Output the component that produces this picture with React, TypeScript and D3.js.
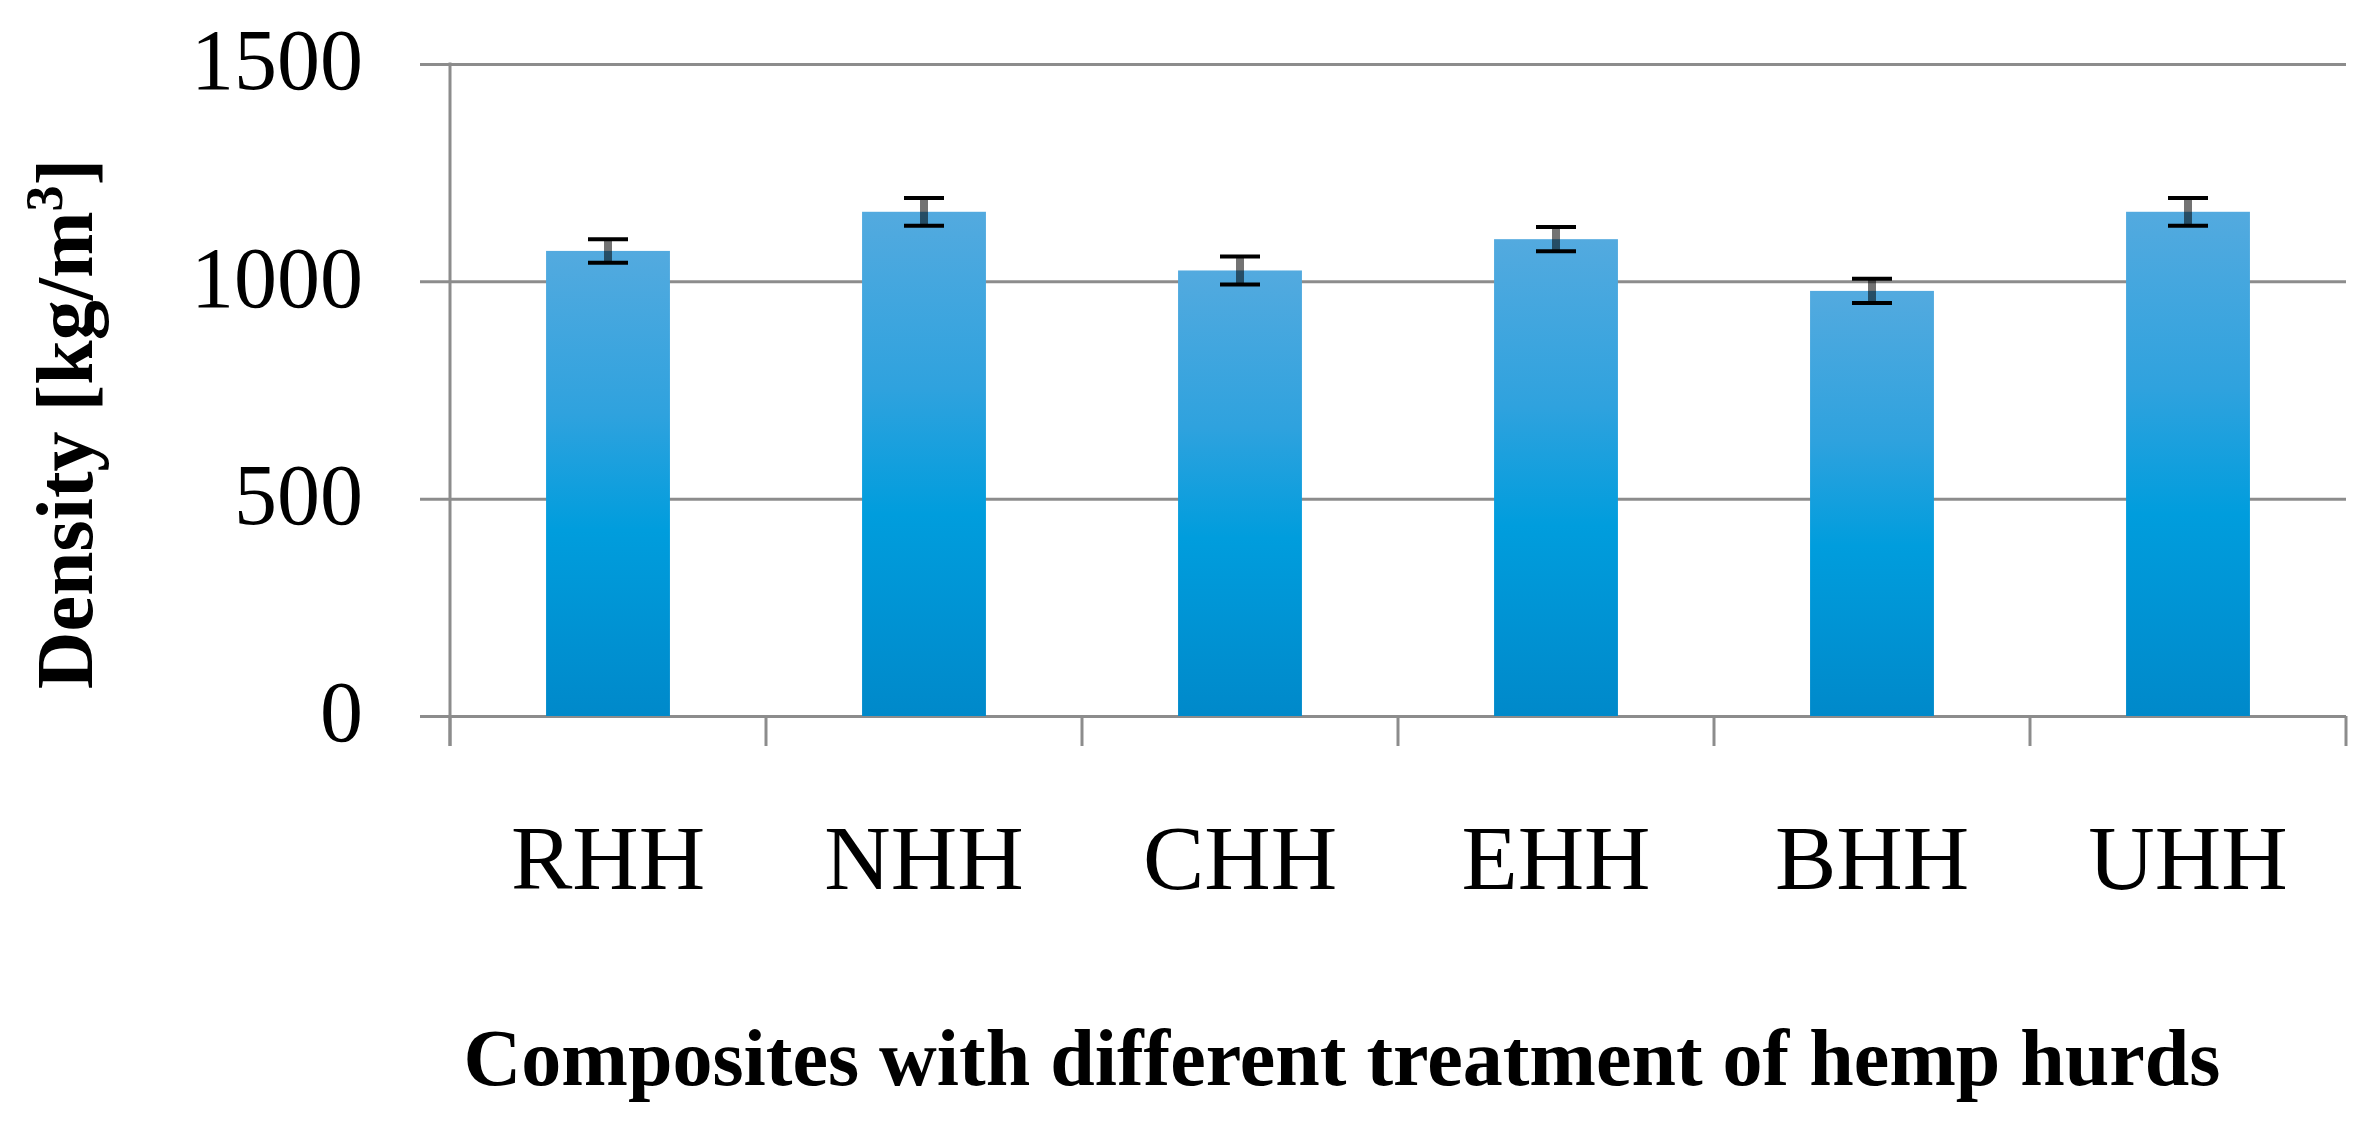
import * as d3 from 'd3'
import { useEffect, useRef } from 'react'

const categories = ['RHH', 'NHH', 'CHH', 'EHH', 'BHH', 'UHH']
const densities = [1070, 1160, 1025, 1097, 978, 1160]
const errors = [27, 32, 32, 28, 28, 32]
const yTicks = [0, 500, 1000, 1500]

const yTitle = 'Density [kg/m'
const xTitle = 'Composites with different treatment of hemp hurds'

export default function App() {
  const ref = useRef<HTMLDivElement | null>(null)

  useEffect(() => {
    const width = 2378
    const height = 1127
    const marginLeft = 450
    const marginRight = 32
    const marginTop = 64
    const marginBottom = 411
    const gridColor = '#8c8c8c'
    const font = '"Liberation Serif", "Times New Roman", serif'

    const rows = categories.map((c, i) => ({
      cat: c,
      value: densities[i],
      err: errors[i],
    }))

    // one slot per category, ticks sit on the slot edges
    const xSlot = d3
      .scaleBand()
      .domain(categories)
      .range([marginLeft, width - marginRight])
      .padding(0)

    const xBar = d3
      .scaleBand()
      .domain(categories)
      .range([marginLeft, width - marginRight])
      .paddingInner(0.608)
      .paddingOuter(0.304)

    const y = d3
      .scaleLinear()
      .domain([0, 1500])
      .range([height - marginBottom, marginTop])

    const svg = d3
      .create('svg')
      .attr('width', width)
      .attr('height', height)
      .attr('viewBox', [0, 0, width, height])
      .style('display', 'block')
      .style('background', '#fff')

    const defs = svg.append('defs')
    const grad = defs
      .append('linearGradient')
      .attr('id', 'barFill')
      .attr('x1', 0)
      .attr('y1', 0)
      .attr('x2', 0)
      .attr('y2', 1)
    const stops: [string, string][] = [
      ['0%', '#53aadf'],
      ['35%', '#2fa2de'],
      ['60%', '#009ddd'],
      ['100%', '#0089ca'],
    ]
    stops.forEach(([o, c]) =>
      grad.append('stop').attr('offset', o).attr('stop-color', c)
    )

    // gridlines + y labels
    svg
      .append('g')
      .attr('transform', `translate(${marginLeft - 30},0)`)
      .call(
        d3
          .axisLeft(y)
          .tickValues(yTicks)
          .tickFormat(d3.format('d'))
          .tickSizeInner(-(width - marginRight - marginLeft + 30))
          .tickSizeOuter(0)
          .tickPadding(57)
      )
      .call((g) => g.select('.domain').remove())
      .call((g) =>
        g
          .selectAll('.tick line')
          .attr('stroke', gridColor)
          .attr('stroke-width', 3)
      )
      .call((g) =>
        g
          .selectAll('.tick text')
          .attr('dy', '0.29em')
          .attr('fill', '#000')
          .attr('font-family', font)
          .attr('font-size', 86)
      )

    // bars
    svg
      .append('g')
      .selectAll('rect')
      .data(rows)
      .join('rect')
      .attr('x', (d) => xBar(d.cat)!)
      .attr('y', (d) => y(d.value))
      .attr('width', xBar.bandwidth())
      .attr('height', (d) => y(0) - y(d.value))
      .attr('fill', 'url(#barFill)')

    // y axis line
    svg
      .append('line')
      .attr('x1', marginLeft)
      .attr('x2', marginLeft)
      .attr('y1', y(1500) - 1.5)
      .attr('y2', y(0) + 30)
      .attr('stroke', gridColor)
      .attr('stroke-width', 3)

    // x axis ticks on the slot edges
    const edges = categories
      .map((c) => xSlot(c)!)
      .concat([width - marginRight])
    svg
      .append('g')
      .selectAll('line')
      .data(edges)
      .join('line')
      .attr('x1', (d) => d)
      .attr('x2', (d) => d)
      .attr('y1', y(0))
      .attr('y2', y(0) + 30)
      .attr('stroke', gridColor)
      .attr('stroke-width', 3)

    // x labels
    svg
      .append('g')
      .selectAll('text')
      .data(categories)
      .join('text')
      .attr('x', (d) => xSlot(d)! + xSlot.bandwidth() / 2)
      .attr('y', 889)
      .attr('text-anchor', 'middle')
      .attr('font-family', font)
      .attr('font-size', 92)
      .attr('fill', '#000')
      .text((d) => d)

    // error bars
    const eb = svg
      .append('g')
      .selectAll('g')
      .data(rows)
      .join('g')
      .attr(
        'transform',
        (d) => `translate(${xBar(d.cat)! + xBar.bandwidth() / 2},0)`
      )
    eb.append('line')
      .attr('x1', 0)
      .attr('x2', 0)
      .attr('y1', (d) => y(d.value + d.err))
      .attr('y2', (d) => y(d.value - d.err))
      .attr('stroke', '#000')
      .attr('stroke-opacity', 0.55)
      .attr('stroke-width', 8)
    eb.selectAll('line.cap')
      .data((d) => [d.value + d.err, d.value - d.err])
      .join('line')
      .attr('class', 'cap')
      .attr('x1', -20)
      .attr('x2', 20)
      .attr('y1', (v) => y(v))
      .attr('y2', (v) => y(v))
      .attr('stroke', '#000')
      .attr('stroke-width', 4)

    // y title
    const yt = svg
      .append('text')
      .attr('transform', 'translate(92,424) rotate(-90)')
      .attr('text-anchor', 'middle')
      .attr('font-family', font)
      .attr('font-weight', 'bold')
      .attr('font-size', 80)
      .attr('fill', '#000')
    yt.append('tspan').text(yTitle)
    yt.append('tspan')
      .attr('font-size', 52)
      .attr('dy', -30)
      .text('3')
    yt.append('tspan').attr('dy', 30).text(']')

    // x title
    svg
      .append('text')
      .attr('x', 1342)
      .attr('y', 1085)
      .attr('text-anchor', 'middle')
      .attr('font-family', font)
      .attr('font-weight', 'bold')
      .attr('font-size', 80)
      .attr('fill', '#000')
      .text(xTitle)

    if (ref.current) {
      ref.current.innerHTML = ''
      ref.current.appendChild(svg.node()!)
    }
  }, [])

  return (
    <div
      ref={ref}
      style={{ position: 'absolute', left: 0, top: 0, width: 2378, height: 1127 }}
    />
  )
}
